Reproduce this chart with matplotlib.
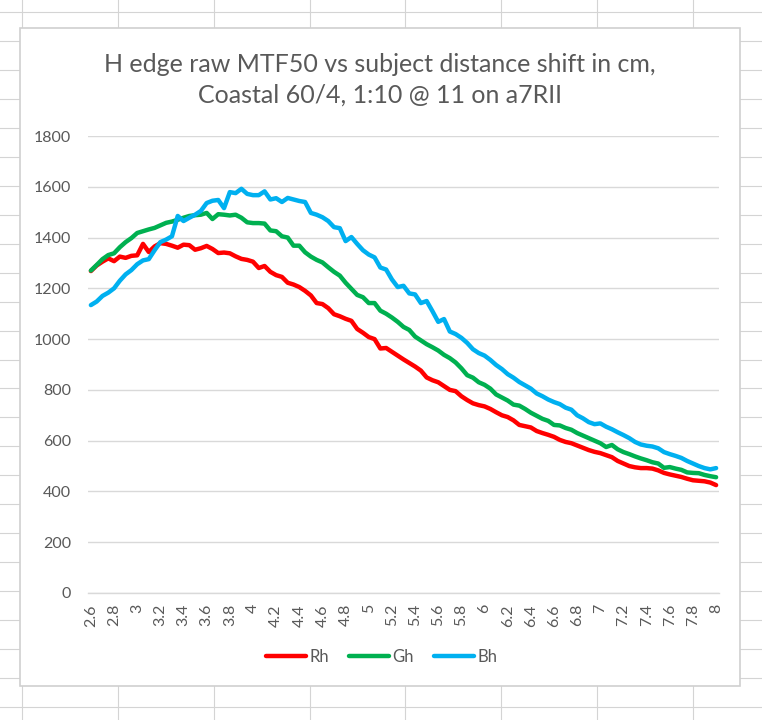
import numpy as np
import matplotlib
matplotlib.use("Agg")
import matplotlib.pyplot as plt
from matplotlib.lines import Line2D
from matplotlib.patches import Rectangle

# shift in cm, 0.05 steps from 2.6 to 8.0
shift_start = 2.6
shift_step = 0.05

rh = [1268, 1290, 1305, 1318, 1307, 1325, 1320, 1328, 1330, 1375,
      1343, 1365, 1378, 1375, 1368, 1360, 1372, 1370, 1352, 1358,
      1367, 1355, 1339, 1341, 1338, 1326, 1316, 1312, 1305, 1280,
      1288, 1265, 1252, 1245, 1222, 1215, 1205, 1190, 1172, 1142,
      1138, 1122, 1098, 1090, 1080, 1072, 1040, 1025, 1008, 1000,
      963, 965, 950, 935, 920, 906, 892, 876, 849, 838,
      830, 815, 800, 795, 775, 760, 747, 740, 735, 725,
      712, 700, 693, 680, 662, 657, 652, 638, 630, 623,
      615, 603, 595, 590, 581, 572, 563, 556, 551, 543,
      535, 520, 510, 500, 495, 492, 492, 490, 483, 473,
      467, 462, 457, 450, 444, 442, 440, 435, 425]

gh = [1270, 1292, 1315, 1331, 1338, 1362, 1382, 1398, 1418, 1425,
      1432, 1438, 1448, 1458, 1463, 1470, 1478, 1485, 1488, 1490,
      1497, 1473, 1492, 1490, 1487, 1490, 1478, 1460, 1457, 1457,
      1455, 1428, 1425, 1405, 1400, 1368, 1368, 1342, 1325, 1312,
      1302, 1283, 1265, 1250, 1222, 1198, 1174, 1165, 1142, 1142,
      1112, 1100, 1085, 1068, 1048, 1036, 1010, 995, 980, 968,
      955, 938, 925, 908, 885, 858, 848, 830, 820, 805,
      782, 770, 758, 742, 738, 725, 710, 698, 686, 678,
      662, 660, 650, 643, 630, 620, 610, 600, 590, 575,
      583, 566, 555, 547, 538, 530, 523, 515, 510, 493,
      496, 490, 485, 475, 473, 472, 465, 460, 456]

bh = [1134, 1148, 1170, 1183, 1200, 1230, 1255, 1272, 1295, 1310,
      1315, 1350, 1382, 1392, 1405, 1485, 1465, 1478, 1490, 1505,
      1536, 1545, 1548, 1516, 1579, 1575, 1592, 1572, 1567, 1567,
      1582, 1550, 1555, 1540, 1556, 1550, 1544, 1540, 1497, 1490,
      1480, 1465, 1441, 1437, 1386, 1402, 1375, 1350, 1333, 1322,
      1282, 1274, 1235, 1205, 1210, 1180, 1176, 1142, 1150, 1110,
      1068, 1079, 1030, 1020, 1005, 985, 960, 945, 935, 918,
      898, 882, 862, 848, 831, 818, 805, 786, 775, 762,
      752, 744, 730, 722, 700, 688, 673, 665, 668, 655,
      645, 633, 622, 610, 595, 585, 580, 577, 570, 555,
      547, 540, 532, 520, 510, 500, 492, 487, 492]

series_names = ["Rh", "Gh", "Bh"]
series_colors = ["#FF0000", "#00B050", "#00B0F0"]

title = "H edge raw MTF50 vs subject distance shift in cm,\nCoastal 60/4, 1:10 @ 11 on a7RII"

n = len(rh)
shifts = [round(shift_start + shift_step * i, 2) for i in range(n)]
idx = np.arange(n)

plt.rcParams['font.family'] = ['Lato', 'DejaVu Sans']
txt = "#595959"
grid = "#D9D9D9"

W, H = 762, 720
fig = plt.figure(figsize=(W / 100, H / 100), dpi=100)
fig.patch.set_facecolor("white")

def fx(px):
    return px / W

def fy(py):
    return 1 - py / H

# spreadsheet cells behind the chart
for k in range(25):
    y = 12 + 28.96 * k
    fig.add_artist(Line2D([0, 1], [fy(y), fy(y)], color="#D4D4D4", lw=0.8, zorder=0.1))
for k in range(8):
    x = 22 + 95.85 * k
    fig.add_artist(Line2D([fx(x), fx(x)], [0, 1], color="#D4D4D4", lw=0.8, zorder=0.1))

# chart frame
fig.add_artist(Rectangle((fx(20), fy(686)), fx(740) - fx(20), fy(28) - fy(686),
                         facecolor="white", edgecolor="#D0D0D0", lw=1.2, zorder=0.5))

ax = fig.add_axes([fx(88), fy(593), fx(719) - fx(88), fy(136) - fy(593)])
ax.set_zorder(2)
ax.patch.set_alpha(0)

for vals, name, c in zip([rh, gh, bh], series_names, series_colors):
    ax.plot(idx, vals, color=c, lw=3.2, label=name, solid_capstyle="round", solid_joinstyle="round")

ax.set_xlim(-0.5, n - 0.5)
ax.set_ylim(0, 1800)
ax.set_yticks(range(0, 1801, 200))
ax.yaxis.grid(True, color=grid, lw=1.0)
ax.set_axisbelow(True)

tick_pos = idx[::4]
ax.set_xticks(tick_pos)
ax.set_xticklabels([f"{shifts[i]:g}" for i in tick_pos], rotation=90, va="top", ha="center")

for s in ["top", "right", "left"]:
    ax.spines[s].set_visible(False)
ax.spines["bottom"].set_color(grid)
ax.spines["bottom"].set_linewidth(1.0)
ax.tick_params(axis="x", length=0, pad=8, labelsize=11.5, labelcolor=txt)
ax.tick_params(axis="y", length=0, pad=12, labelsize=11.5, labelcolor=txt)

fig.text(fx(380), fy(80), title, ha="center", va="center", fontsize=18,
         color=txt, linespacing=1.4)

leg = ax.legend(loc="center", bbox_to_anchor=(fx(382), fy(657)), bbox_transform=fig.transFigure,
                ncol=3, frameon=False, fontsize=12, handlelength=2.4, handletextpad=0.2,
                columnspacing=1.2)
for t in leg.get_texts():
    t.set_color(txt)

fig.savefig("out.png", dpi=100, facecolor="white")
